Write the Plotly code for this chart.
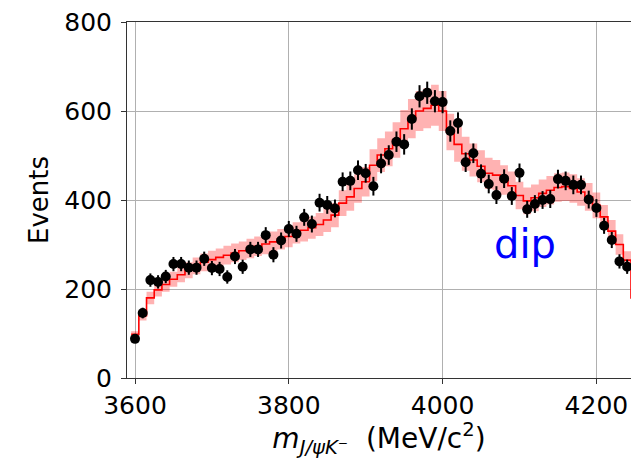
import plotly.graph_objects as go

# Bin centres of the J/psi K- invariant-mass histogram (MeV/c^2), 10 MeV bins
mass = [3600, 3610, 3620, 3630, 3640, 3650, 3660, 3670, 3680, 3690,
        3700, 3710, 3720, 3730, 3740, 3750, 3760, 3770, 3780, 3790,
        3800, 3810, 3820, 3830, 3840, 3850, 3860, 3870, 3880, 3890,
        3900, 3910, 3920, 3930, 3940, 3950, 3960, 3970, 3980, 3990,
        4000, 4010, 4020, 4030, 4040, 4050, 4060, 4070, 4080, 4090,
        4100, 4110, 4120, 4130, 4140, 4150, 4160, 4170, 4180, 4190,
        4200, 4210, 4220, 4230, 4240]

# Observed event counts and their statistical uncertainties
events = [88, 146, 220, 216, 228, 256, 256, 248, 248, 268,
          247, 245, 227, 273, 250, 289, 289, 321, 277, 309,
          335, 324, 361, 346, 394, 389, 381, 441, 443, 467,
          460, 431, 482, 501, 531, 525, 582, 633, 641, 622,
          620, 555, 573, 485, 505, 459, 436, 411, 448, 409,
          461, 379, 391, 400, 402, 447, 443, 434, 434, 401,
          382, 342, 310, 262, 250]
events_err = [9, 12, 15, 15, 15, 16, 16, 16, 16, 16,
              16, 16, 15, 17, 16, 17, 17, 18, 17, 18,
              18, 18, 19, 19, 20, 20, 20, 21, 21, 22,
              21, 21, 22, 22, 23, 23, 24, 25, 25, 25,
              25, 24, 24, 22, 22, 21, 21, 20, 21, 20,
              21, 19, 20, 20, 20, 21, 21, 21, 21, 20,
              20, 18, 18, 16, 16]

# Fit model histogram (one extra bin beyond the visible range) and its band
model_mass = mass + [4250]
model = [98, 140, 180, 198, 210, 222, 232, 242, 252, 260,
         266, 271, 276, 281, 286, 291, 296, 301, 306, 312,
         318, 326, 332, 338, 345, 355, 366, 393, 407, 426,
         441, 478, 501, 515, 535, 560, 583, 600, 606, 613,
         600, 553, 525, 504, 490, 476, 460, 456, 445, 432,
         410, 398, 405, 415, 422, 428, 430, 426, 418, 407,
         388, 362, 330, 300, 265, 180]
model_band = [7, 11, 14, 15, 16, 17, 17, 18, 19, 20,
              20, 20, 21, 21, 21, 22, 22, 23, 23, 23,
              24, 24, 25, 25, 26, 27, 27, 29, 31, 32,
              33, 36, 38, 39, 40, 42, 44, 45, 45, 46,
              45, 41, 39, 38, 37, 36, 35, 34, 33, 32,
              31, 30, 30, 31, 32, 32, 32, 32, 31, 31,
              29, 27, 25, 23, 20, 14]

x_ticks = [3600, 3800, 4000, 4200]
y_ticks = [0, 200, 400, 600, 800]

half_bin = 5
# Step outlines: left bin edges plus the closing right edge
step_x = [m - half_bin for m in model_mass] + [model_mass[-1] + half_bin]
step_y = model + [model[-1]]
band_lo = [v - b for v, b in zip(model, model_band)]
band_hi = [v + b for v, b in zip(model, model_band)]
band_lo += [band_lo[-1]]
band_hi += [band_hi[-1]]

fig = go.Figure()

fig.add_trace(go.Scatter(
    x=step_x, y=band_lo, mode="lines", line=dict(width=0, shape="hv"),
    hoverinfo="skip", showlegend=False))
fig.add_trace(go.Scatter(
    x=step_x, y=band_hi, mode="lines", line=dict(width=0, shape="hv"),
    fill="tonexty", fillcolor="rgba(255,0,0,0.3)",
    hoverinfo="skip", showlegend=False))
fig.add_trace(go.Scatter(
    x=step_x, y=step_y, mode="lines",
    line=dict(color="red", width=1.6, shape="hv"),
    showlegend=False))
fig.add_trace(go.Scatter(
    x=mass, y=events, mode="markers",
    marker=dict(color="black", size=10),
    error_y=dict(type="data", array=events_err, color="black",
                 thickness=2, width=0),
    showlegend=False))

fig.add_annotation(
    x=4107, y=302, text="dip", showarrow=False,
    font=dict(family="DejaVu Sans", size=40, color="blue"),
    xanchor="center", yanchor="middle")

tick_font = dict(family="DejaVu Sans", size=25, color="black")
title_font = dict(family="DejaVu Sans", size=28, color="black")

fig.update_layout(
    width=631, height=459,
    margin=dict(l=127, r=0, t=22, b=81),
    paper_bgcolor="white", plot_bgcolor="white",
    font=tick_font,
    xaxis=dict(
        range=[3589.6, 4245], tickvals=x_ticks,
        showgrid=True, gridcolor="#b0b0b0", gridwidth=1,
        zeroline=False, showline=True, linecolor="#333333", linewidth=1,
        mirror=True, ticks="outside", ticklen=5, tickcolor="#333333",
        tickfont=tick_font,
        title=dict(text="<i>m</i><sub><i>J/ψK⁻</i></sub>  (MeV/c<sup>2</sup>)",
                   font=title_font, standoff=6)),
    yaxis=dict(
        range=[0, 800], tickvals=y_ticks,
        showgrid=True, gridcolor="#b0b0b0", gridwidth=1,
        zeroline=False, showline=True, linecolor="#333333", linewidth=1,
        ticks="outside", ticklen=5, tickcolor="#333333",
        tickfont=tick_font, ticklabelstandoff=4,
        title=dict(text="Events", font=dict(family="DejaVu Sans", size=26,
                                            color="black"), standoff=8)),
)

fig.write_html("out.html")
